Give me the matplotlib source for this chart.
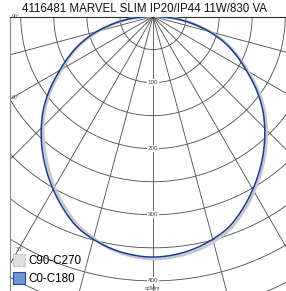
import numpy as np
import matplotlib.pyplot as plt
from matplotlib.patches import Patch

# luminous intensity (cd/klm), gamma angle from nadir
gamma = [0, 5, 10, 15, 20, 25, 30, 35, 40, 45, 50, 55, 60, 65, 70, 75, 80, 85, 90]
c0_c180 = [364, 362, 357, 349, 338, 321, 302, 282, 261, 239, 216, 190, 163, 139, 115, 88, 59, 32, 4]
c90 = [367, 365, 361, 353, 342, 325, 306, 286, 265, 243, 220, 194, 166, 142, 118, 90, 61, 33, 4]
c270 = [367, 364, 358, 347, 335, 317, 298, 277, 256, 235, 212, 186, 159, 136, 112, 85, 57, 30, 4]

ring_labels = [100, 200, 300, 400]
angle_labels = ['90°', '60°', '30°']
angle_label_pos = [(-214, 0), (-214, -122), (-207, -353)]

title = '4116481 MARVEL SLIM IP20/IP44 11W/830 VA'

plt.rcParams['font.family'] = ['Liberation Sans', 'DejaVu Sans']

fig = plt.figure(figsize=(2.86, 2.91), dpi=100)
ax = fig.add_axes([10 / 286, 0, 276 / 286, 274.5 / 291])
ax.set_xlim(-216.3, 201.2)
ax.set_ylim(-415.3, 0)
ax.set_xticks([])
ax.set_yticks([])
for s in ['right', 'bottom']:
    ax.spines[s].set_visible(False)
ax.spines['left'].set_color('#8a8a8a')
ax.spines['left'].set_linewidth(0.8)
ax.spines['top'].set_color('#333333')
ax.spines['top'].set_linewidth(0.8)


def to_xy(angles_deg, r, side):
    a = np.radians(np.asarray(angles_deg, dtype=float))
    r = np.asarray(r, dtype=float)
    return side * r * np.sin(a), -r * np.cos(a)


def smooth(x, y, n=12):
    # catmull-rom through the points, just for drawing
    p = np.c_[x, y]
    p = np.vstack([p[0], p, p[-1]])
    out = []
    tt = np.linspace(0, 1, n, endpoint=False)[:, None]
    for i in range(1, len(p) - 2):
        p0, p1, p2, p3 = p[i - 1], p[i], p[i + 1], p[i + 2]
        out.append(0.5 * (2 * p1 + (-p0 + p2) * tt + (2 * p0 - 5 * p1 + 4 * p2 - p3) * tt ** 2
                          + (-p0 + 3 * p1 - 3 * p2 + p3) * tt ** 3))
    out.append(p[-2][None, :])
    out = np.vstack(out)
    return out[:, 0], out[:, 1]


# grid: circles every 50, radial lines every 15 deg
t = np.linspace(0, 2 * np.pi, 400)
for rr in range(50, 650, 50):
    ax.plot(rr * np.cos(t), rr * np.sin(t), color='#4a4a4a', lw=0.6, zorder=1)
for ang in range(-90, 91, 15):
    x, y = to_xy([ang, ang], [0, 700], 1)
    ax.plot(x, y, color='#4a4a4a', lw=0.6, zorder=1)

# curves
xr, yr = to_xy(gamma, c90, 1)
xl, yl = to_xy(gamma, c270, -1)
ax.plot(*smooth(np.r_[xl[::-1], xr[1:]], np.r_[yl[::-1], yr[1:]]), color='#c3c7cf', lw=2.0,
        zorder=3, solid_capstyle='round')
xr, yr = to_xy(gamma, c0_c180, 1)
xl, yl = to_xy(gamma, c0_c180, -1)
ax.plot(*smooth(np.r_[xl[::-1], xr[1:]], np.r_[yl[::-1], yr[1:]]), color='#1c3a8c', lw=1.1,
        zorder=4)

for v in ring_labels:
    ax.text(0, -v, str(v), ha='center', va='center', fontsize=4.5, color='#444444',
            bbox=dict(boxstyle='square,pad=0.15', fc='white', ec='none'), zorder=5)
ax.text(0, -412, 'cd/klm', ha='center', va='center', fontsize=3.8, color='#444444', zorder=5)

for lab, (x, y) in zip(angle_labels, angle_label_pos):
    ax.text(x, y, lab, ha='left', va='center', fontsize=3.8, color='#555555', zorder=5)

handles = [Patch(facecolor='#dedede', edgecolor='#b0b0b0', linestyle='--', lw=0.6),
           Patch(facecolor='#6f93d6', edgecolor='#2a4a9a', lw=0.8)]
ax.legend(handles, ['C90-C270', 'C0-C180'], loc='lower left', bbox_to_anchor=(-0.01, 0.0),
          frameon=False, fontsize=8.4, handlelength=1.05, handleheight=1.2,
          handletextpad=0.3, labelspacing=0.45, borderaxespad=0.1)

fig.text(144 / 286, 1 - 8.5 / 291, title, ha='center', va='center', fontsize=8.3, color='#111111')

fig.savefig('out.png', dpi=100)
